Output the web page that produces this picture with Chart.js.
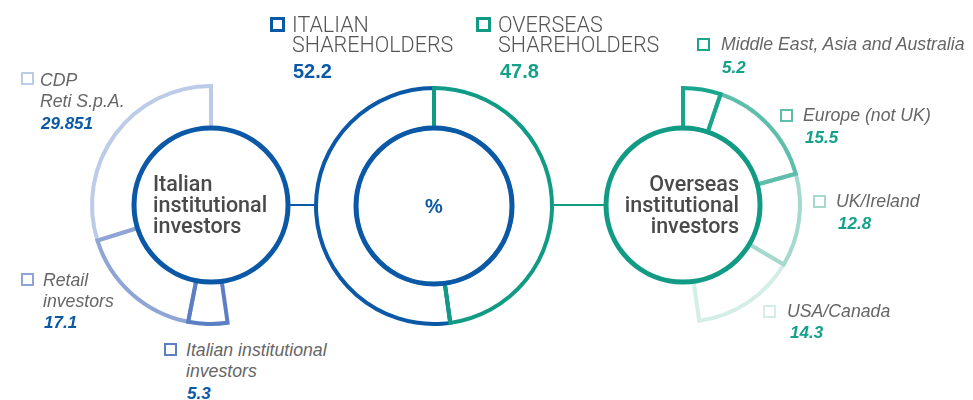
<!DOCTYPE html>
<html>
<head>
<meta charset="utf-8">
<script src="https://cdn.jsdelivr.net/npm/chart.js@4.4.1/dist/chart.umd.min.js"></script>
<style>
  html,body{margin:0;padding:0;background:#fff;}
  #stage{position:relative;width:973px;height:400px;overflow:hidden;background:#fff;font-family:"Liberation Sans",Arial,Helvetica,sans-serif;}
  canvas{position:absolute;}
  .t{position:absolute;white-space:nowrap;}
  .sq{position:absolute;box-sizing:border-box;background:transparent;}
  .ln{position:absolute;height:2px;}
</style>
</head>
<body>
<div id="stage">
  <div class="ln" id="lnL"></div>
  <div class="ln" id="lnR"></div>
  <canvas id="cLeft" width="260" height="260"></canvas>
  <canvas id="cMid" width="260" height="260"></canvas>
  <canvas id="cRight" width="260" height="260"></canvas>
</div>
<script>
// ---------------- DATA ----------------
const shareholderLabels = [["ITALIAN", "SHAREHOLDERS"], ["OVERSEAS", "SHAREHOLDERS"]];
const shareholderValues = [52.2, 47.8];

const italianLabels = [["CDP", "Reti S.p.A."], ["Retail", "investors"], ["Italian institutional", "investors"]];
const italianValues = [29.851, 17.1, 5.3];

const overseasLabels = [["Middle East, Asia and Australia"], ["Europe (not UK)"], ["UK/Ireland"], ["USA/Canada"]];
const overseasValues = [5.2, 15.5, 12.8, 14.3];

const centerTitles = { italian: ["Italian", "institutional", "investors"], overseas: ["Overseas", "institutional", "investors"], middle: "%" };

// ---------------- STYLE ----------------
const BLUE = "#0b59a6";
const GREEN = "#129b84";
const italianColors = ["#bccbe7", "#8ea5d5", "#5b7fc2"];
const overseasColors = ["#1aa68d", "#5fbdab", "#a5d9ce", "#d3ede7"];
const VALUE_BLUE = "#0b59a6";
const VALUE_GREEN = "#13a189";
const TEXT_GRAY = "#666";
const TITLE_GRAY = "#4a4a4a";

const stage = document.getElementById("stage");

// place a text block by its first baseline
function textBlock(lines, x, baseline, opt) {
  const fs = opt.size, lh = opt.lh || Math.round(fs * 1.2);
  const asc = opt.asc || 0.905, desc = opt.desc || 0.212;
  const el = document.createElement("div");
  el.className = "t";
  el.style.fontSize = fs + "px";
  el.style.lineHeight = lh + "px";
  el.style.color = opt.color;
  el.style.fontWeight = opt.weight || "normal";
  el.style.fontStyle = opt.style || "normal";
  if (opt.family) el.style.fontFamily = opt.family;
  if (opt.align === "right") { el.style.textAlign = "right"; }
  el.innerHTML = lines.map(s => s.replace(/&/g, "&amp;").replace(/</g, "&lt;")).join("<br>");
  const top = baseline - (lh - fs * (asc + desc)) / 2 - fs * asc;
  el.style.top = top + "px";
  if (opt.align === "right") { el.style.right = (973 - x) + "px"; }
  else if (opt.align === "center") { el.style.left = (x - 100) + "px"; el.style.width = "200px"; el.style.textAlign = "center"; }
  else el.style.left = x + "px";
  stage.appendChild(el);
  return el;
}
function square(x, y, size, bw, color) {
  const s = document.createElement("div");
  s.className = "sq";
  s.style.left = x + "px"; s.style.top = y + "px";
  s.style.width = size + "px"; s.style.height = size + "px";
  s.style.border = bw + "px solid " + color;
  stage.appendChild(s);
}

// connectors
const lnL = document.getElementById("lnL");
lnL.style.left = "288px"; lnL.style.width = "30px"; lnL.style.top = "204px"; lnL.style.background = BLUE;
const lnR = document.getElementById("lnR");
lnR.style.left = "550px"; lnR.style.width = "57px"; lnR.style.top = "204px"; lnR.style.background = GREEN;

// ---------------- CHARTS ----------------
const centerCircle = {
  id: "centerCircle",
  afterDatasetsDraw(chart, args, opts) {
    const arc = chart.getDatasetMeta(0).data[0];
    const ctx = chart.ctx;
    ctx.save();
    ctx.beginPath();
    ctx.arc(arc.x, arc.y, arc.innerRadius, 0, Math.PI * 2);
    ctx.lineWidth = opts.width;
    ctx.strokeStyle = opts.color;
    ctx.stroke();
    ctx.restore();
  }
};

function ringChart(id, cx, cy, R, r, values, borderColors, borderWidths, circleColor) {
  const cv = document.getElementById(id);
  cv.style.left = (cx - 130) + "px";
  cv.style.top = (cy - 130) + "px";
  cv.style.transform = "scaleX(-1)"; // draw anticlockwise so later slices overlap dividers
  return new Chart(cv, {
    type: "doughnut",
    data: {
      labels: values.map((v, i) => "s" + i),
      datasets: [{
        data: values,
        backgroundColor: "rgba(0,0,0,0)",
        borderColor: borderColors,
        borderWidth: borderWidths,
        borderJoinStyle: "miter",
        borderAlign: "center"
      }]
    },
    options: {
      responsive: false,
      animation: false,
      events: [],
      radius: R,
      cutout: (r / R * 100) + "%",
      rotation: 0,
      circumference: 360,
      layout: { padding: 0 },
      plugins: {
        legend: { display: false },
        tooltip: { enabled: false },
        centerCircle: { color: circleColor, width: 5 }
      }
    },
    plugins: [centerCircle]
  });
}

// Left: Italian breakdown, shown anticlockwise from top; remainder (overseas share) hidden
ringChart("cLeft", 211, 205, 119, 77,
  [...italianValues, shareholderValues[1]],
  [...italianColors, "rgba(0,0,0,0)"],
  [4, 4, 4, 0], BLUE);

// Middle: Italian vs overseas
ringChart("cMid", 434, 206, 118, 78,
  shareholderValues,
  [BLUE, GREEN],
  [4, 4], BLUE);

// Right: overseas breakdown, clockwise from top; hidden remainder first (mirrored canvas)
ringChart("cRight", 683, 205, 117, 77,
  [shareholderValues[0], ...overseasValues.slice().reverse()],
  ["rgba(0,0,0,0)", ...overseasColors.slice().reverse()],
  [0, 4, 4, 4, 4], GREEN);

// ---------------- TEXT ----------------
const HEAD = { size: 21.5, lh: 20, color: "#555", family: "Roboto, 'Liberation Sans', Arial, sans-serif", weight: 300, asc: 0.928, desc: 0.244 };
square(270, 17, 15, 3, BLUE);
textBlock(shareholderLabels[0], 292, 32, HEAD);
textBlock([String(shareholderValues[0])], 293, 78, { size: 20, color: VALUE_BLUE, weight: "bold" });
square(476, 17, 15, 3, GREEN);
textBlock(shareholderLabels[1], 498, 32, HEAD);
textBlock([String(shareholderValues[1])], 500, 78, { size: 20, color: VALUE_GREEN, weight: "bold" });

const LAB = { size: 17.7, lh: 21, color: TEXT_GRAY, style: "italic" };
const VAL = { size: 17, color: VALUE_BLUE, style: "italic", weight: "bold" };
const VALG = Object.assign({}, VAL, { color: VALUE_GREEN });

// left labels
const leftPos = [
  { sq: [21, 72], x: 40, b: 87, vx: 41, vb: 130 },
  { sq: [21, 273], x: 43, b: 287, vx: 44, vb: 329 },
  { sq: [164, 343], x: 186, b: 357, vx: 187, vb: 400 }
];
italianLabels.forEach((lines, i) => {
  const p = leftPos[i];
  square(p.sq[0], p.sq[1], 13, 2, italianColors[i]);
  textBlock(lines, p.x, p.b, LAB);
  textBlock([String(italianValues[i])], p.vx, p.vb, VAL);
});

// right labels
const rightPos = [
  { sq: [697, 38], x: 721, b: 51, vx: 722, vb: 74 },
  { sq: [780, 109], x: 803, b: 122, vx: 805, vb: 144 },
  { sq: [813, 195], x: 836, b: 208, vx: 838, vb: 230 },
  { sq: [763, 305], x: 787, b: 318, vx: 790, vb: 339 }
];
overseasLabels.forEach((lines, i) => {
  const p = rightPos[i];
  square(p.sq[0], p.sq[1], 13, 2, overseasColors[i]);
  textBlock(lines, p.x, p.b, LAB);
  textBlock([String(overseasValues[i])], p.vx, p.vb, VALG);
});

// centre titles
const TITLE = { size: 21.5, lh: 21, color: TITLE_GRAY, weight: 500, family: "Roboto, 'Liberation Sans', Arial, sans-serif", asc: 0.928, desc: 0.244 };
textBlock(centerTitles.italian, 153, 191, TITLE);
textBlock(centerTitles.overseas, 739, 191, Object.assign({}, TITLE, { align: "right" }));
textBlock([centerTitles.middle], 434, 213, { size: 20, color: BLUE, weight: "bold", align: "center" });
</script>
</body>
</html>
